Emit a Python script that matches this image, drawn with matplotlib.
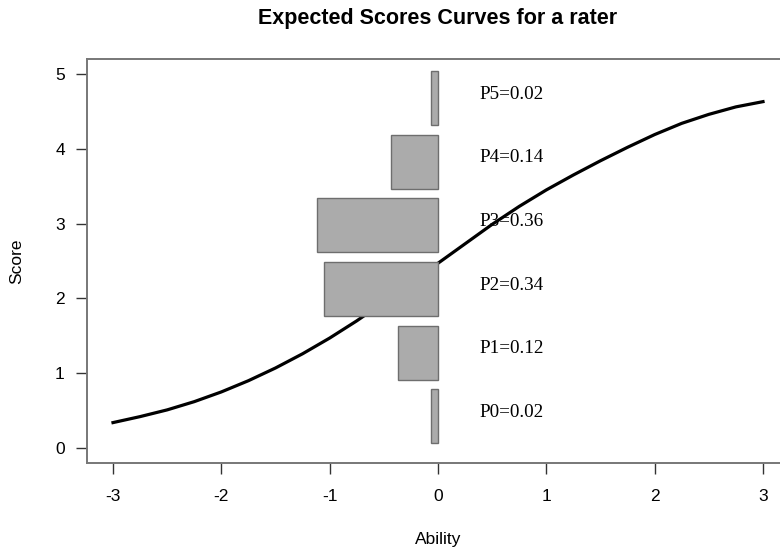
import numpy as np
import matplotlib
matplotlib.use('Agg')
import matplotlib.pyplot as plt

# expected score curve
ability = [-3.0, -2.75, -2.5, -2.25, -2.0, -1.75, -1.5, -1.25, -1.0, -0.75, -0.5, -0.25,
           0.0, 0.25, 0.5, 0.75, 1.0, 1.25, 1.5, 1.75, 2.0, 2.25, 2.5, 2.75, 3.0]
score = [0.34, 0.42, 0.51, 0.62, 0.75, 0.90, 1.07, 1.26, 1.47, 1.70, 1.95, 2.21,
         2.47, 2.73, 2.99, 3.23, 3.45, 3.65, 3.84, 4.02, 4.19, 4.34, 4.46, 4.56, 4.63]

# category probabilities
cats = ['P0', 'P1', 'P2', 'P3', 'P4', 'P5']
probs = [0.02, 0.12, 0.34, 0.36, 0.14, 0.02]

plt.rcParams['font.family'] = ['Liberation Sans', 'DejaVu Sans']
plt.rcParams['axes.unicode_minus'] = False

fig = plt.figure(figsize=(7.8, 5.53), dpi=100)
ax = fig.add_axes([87 / 780, 90 / 553, 702 / 780, 404 / 553])

ax.plot(ability, score, color='black', lw=2.3, zorder=2)

scale = 3.1
pos = 0.425 + 0.851 * np.arange(len(cats))
ax.barh(pos, -np.array(probs) * scale, height=0.72, left=0,
        color='#ababab', edgecolor='#6e6e6e', linewidth=1, zorder=3)
for p, c, y in zip(probs, cats, pos):
    ax.text(0.68, y + 0.05, f'{c}={p:.2f}', ha='center', va='center',
            family='Liberation Serif', fontsize=13.8, zorder=4)

ax.set_xlim(-3.24, 3.24)
ax.set_ylim(-0.2, 5.2)
ax.set_xticks(range(-3, 4))
ax.set_yticks(range(0, 6))
ax.tick_params(axis='x', length=8, width=1, color='#333333', labelsize=12.5, pad=11)
ax.tick_params(axis='y', length=8, width=1, color='#333333', labelsize=12.5, pad=8)
for s in ax.spines.values():
    s.set_color('#777777')
    s.set_linewidth(1.4)

ax.set_xlabel('Ability', fontsize=12.5, labelpad=20)
ax.set_ylabel('Score', fontsize=12.5, labelpad=22)
ax.set_title('Expected Scores Curves for a rater', fontsize=15.5, fontweight='bold', pad=25)

fig.savefig('out.png', dpi=100)
